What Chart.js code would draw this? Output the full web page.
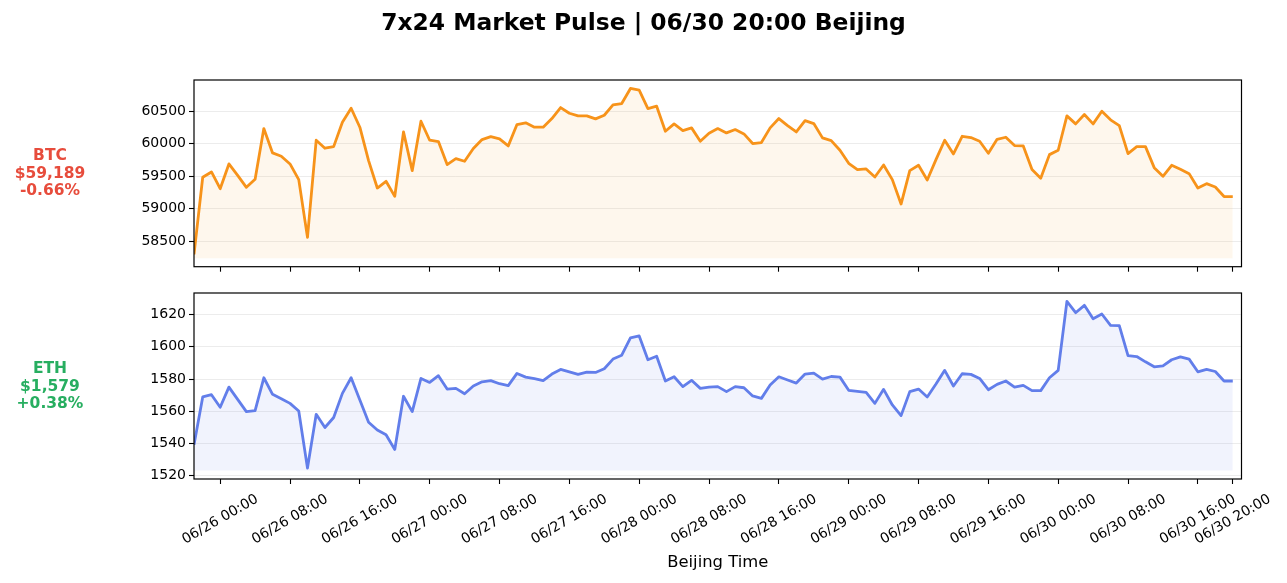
<!DOCTYPE html>
<html>
<head>
<meta charset="utf-8">
<script src="https://cdn.jsdelivr.net/npm/chart.js@4.4.0/dist/chart.umd.min.js"></script>
<style>
  body { margin: 0; background: #fff; }
  #wrap { position: relative; width: 1287px; height: 583px; overflow: hidden; }
  canvas { position: absolute; left: 0; top: 0; }
  .title { position: absolute; left: 0; top: 8px; width: 1287px; text-align: center;
           font: bold 23.4px "DejaVu Sans"; line-height: 28px; white-space: nowrap; }
  .side { position: absolute; left: 0; width: 100px; text-align: center;
          font: bold 15.5px "DejaVu Sans"; line-height: 17.6px; white-space: nowrap; }
</style>
</head>
<body>
<div id="wrap">
  <canvas id="btcChart" width="1287" height="583"></canvas>
  <canvas id="ethChart" width="1287" height="583"></canvas>
  <div class="title">7x24 Market Pulse | 06/30 20:00 Beijing</div>
  <div class="side" style="top:147px; color:#e74c3c">BTC<br>$59,189<br>-0.66%</div>
  <div class="side" style="top:360px; color:#27ae60">ETH<br>$1,579<br>+0.38%</div>
</div>
<script>
   //    hourly samples, first one is 06/25 21:00 (hour -3 from 06/26 00:00)
   const startHour = -3;

   const btcPrice = [
       58300, 59485, 59567, 59310, 59690, 59515, 59331, 59454, 60233, 59859,
       59808, 59690, 59449, 58562, 60054, 59931, 59956, 60331, 60546, 60254,
       59741, 59320, 59423, 59192, 60182, 59587, 60346, 60054, 60033, 59680,
       59772, 59731, 59926, 60064, 60110, 60074, 59967, 60295, 60321, 60254,
       60254, 60387, 60556, 60469, 60428, 60428, 60382, 60438, 60597, 60618,
       60849, 60823, 60541, 60577, 60192, 60305, 60203, 60244, 60038, 60162,
       60233, 60167, 60218, 60151, 60003, 60018, 60244, 60387, 60279, 60182,
       60356, 60310, 60090, 60049, 59900, 59700, 59603, 59613, 59490, 59674,
       59449, 59074, 59587, 59669, 59444, 59756, 60054, 59844, 60115, 60095,
       60038, 59854, 60069, 60100, 59972, 59967, 59603, 59469, 59833, 59900,
       60428, 60305, 60449, 60305, 60500, 60367, 60279, 59849, 59956, 59956,
       59633, 59500, 59669, 59608, 59541, 59320, 59387, 59336, 59189, 59189
   ];

   const ethPrice = [
       1539.2, 1568.9, 1570.3, 1562.5, 1575.0, 1567.4, 1559.8, 1560.4, 1580.8, 1570.5,
       1567.8, 1564.9, 1560.2, 1524.7, 1558.1, 1549.9, 1556.1, 1571.1, 1580.8, 1567.0,
       1553.2, 1548.4, 1545.4, 1536.3, 1569.3, 1559.8, 1580.4, 1577.9, 1582.1, 1573.8,
       1574.2, 1570.9, 1575.7, 1578.3, 1579.0, 1577.1, 1575.9, 1583.5, 1581.2, 1580.2,
       1579.0, 1583.1, 1586.0, 1584.5, 1582.9, 1584.3, 1584.1, 1586.4, 1592.4, 1594.8,
       1605.6, 1606.8, 1592.0, 1594.2, 1578.8, 1581.4, 1575.3, 1579.2, 1574.2, 1575.0,
       1575.3, 1572.2, 1575.3, 1574.6, 1569.5, 1568.0, 1576.3, 1581.4, 1579.4, 1577.5,
       1583.1, 1583.7, 1580.0, 1581.6, 1581.2, 1573.0, 1572.4, 1571.7, 1564.9, 1573.6,
       1563.9, 1557.3, 1572.2, 1573.8, 1568.9, 1576.9, 1585.4, 1575.7, 1583.3, 1582.9,
       1580.4, 1573.4, 1576.7, 1578.8, 1575.0, 1576.1, 1572.8, 1572.8, 1580.8, 1585.4,
       1628.2, 1621.2, 1625.8, 1617.5, 1620.4, 1613.4, 1613.2, 1594.6, 1594.0, 1590.7,
       1587.6, 1588.2, 1592.0, 1593.8, 1592.4, 1584.5, 1586.0, 1584.7, 1578.8, 1578.8
   ];

   const btcTicks = [58500, 59000, 59500, 60000, 60500];
   const ethTicks = [1520, 1540, 1560, 1580, 1600, 1620];

   const xTickHours = [0, 8, 16, 24, 32, 40, 48, 56, 64, 72, 80, 88, 96, 104, 112, 116];
   const xTickLabels = [
       '06/26 00:00', '06/26 08:00', '06/26 16:00', '06/27 00:00', '06/27 08:00',
       '06/27 16:00', '06/28 00:00', '06/28 08:00', '06/28 16:00', '06/29 00:00',
       '06/29 08:00', '06/29 16:00', '06/30 00:00', '06/30 08:00', '06/30 16:00',
       '06/30 20:00'
   ];

   Chart.defaults.font.family = '"DejaVu Sans"';
   Chart.defaults.font.size = 14;
   Chart.defaults.color = '#000';

   //    axes frame + rotated, centered time labels
   const framePlugin = {
       id: 'frame',
       afterDraw(chart) {
           const { ctx, chartArea: a } = chart;
           ctx.save();
           ctx.strokeStyle = '#000';
           ctx.lineWidth = 1.2;
           ctx.strokeRect(a.left, a.top, a.right - a.left, a.bottom - a.top);
           ctx.restore();
       }
   };

   const xLabelPlugin = {
       id: 'xLabels',
       afterDraw(chart, args, opts) {
           if (!opts.show) return;
           const { ctx, chartArea, scales: { x } } = chart;
           ctx.save();
           ctx.font = '14px "DejaVu Sans"';
           ctx.fillStyle = '#000';
           ctx.textAlign = 'center';
           ctx.textBaseline = 'middle';
           x.ticks.forEach(t => {
               const px = x.getPixelForValue(t.value);
               ctx.save();
               ctx.translate(px, chartArea.bottom + 40.5);
               ctx.rotate(-Math.PI / 6);
               ctx.fillText(xTickLabels[xTickHours.indexOf(t.value)], 0, 0);
               ctx.restore();
           });
           ctx.restore();
       }
   };

   function makeConfig(values, yTicks, line, fill, opt) {
       const lo = Math.min(...values) * 0.999;
       const hi = Math.max(...values);
       const pad = (hi - lo) * 0.05;

       return {
           type: 'line',
           data: {
               datasets: [{
                   data: values.map((v, i) => ({ x: startHour + i, y: v })),
                   borderColor: line,
                   backgroundColor: fill,
                   borderWidth: 2.8,
                   borderJoinStyle: 'round',
                   pointRadius: 0,
                   tension: 0,
                   fill: { value: lo },
               }]
           },
           options: {
               responsive: false,
               animation: false,
               events: [],
               layout: {
                   padding: { left: 0, right: 45.5, top: opt.padTop, bottom: 0 }
               },
               plugins: {
                   legend: { display: false },
                   tooltip: { enabled: false },
                   title: { display: false },
                   xLabels: { show: opt.showLabels }
               },
               scales: {
                   x: {
                       type: 'linear',
                       min: startHour,
                       max: 117,
                       afterBuildTicks: s => { s.ticks = xTickHours.map(v => ({ value: v })); },
                       afterFit: s => { s.height = opt.xHeight; },
                       border: { display: false },
                       grid: {
                           drawOnChartArea: false,
                           tickLength: 5,
                           tickColor: '#000',
                           tickWidth: 1.1
                       },
                       ticks: { display: false },
                       title: opt.showLabels ? {
                           display: true,
                           text: 'Beijing Time',
                           color: '#000',
                           font: { size: 16.4 },
                           padding: { top: 4, bottom: 10.2 }
                       } : { display: false }
                   },
                   y: {
                       min: lo - pad,
                       max: hi + pad,
                       afterBuildTicks: s => { s.ticks = yTicks.map(v => ({ value: v })); },
                       afterFit: s => { s.width = 194; },
                       border: { display: false },
                       grid: {
                           color: 'rgba(0,0,0,0.075)',
                           lineWidth: 1,
                           tickLength: 5,
                           tickColor: '#000',
                           tickWidth: 1.1
                       },
                       ticks: {
                           padding: 3,
                           color: '#000',
                           callback: v => String(v)
                       }
                   }
               }
           },
           plugins: [framePlugin, xLabelPlugin]
       };
   }

   new Chart(
       document.getElementById('btcChart'),
       makeConfig(btcPrice, btcTicks, '#f7931a', 'rgba(247,147,26,0.08)',
           { padTop: 80, xHeight: 316.3, showLabels: false })
   );

   new Chart(
       document.getElementById('ethChart'),
       makeConfig(ethPrice, ethTicks, '#627eea', 'rgba(98,126,234,0.09)',
           { padTop: 293, xHeight: 104, showLabels: true })
   );
</script>
</body>
</html>
